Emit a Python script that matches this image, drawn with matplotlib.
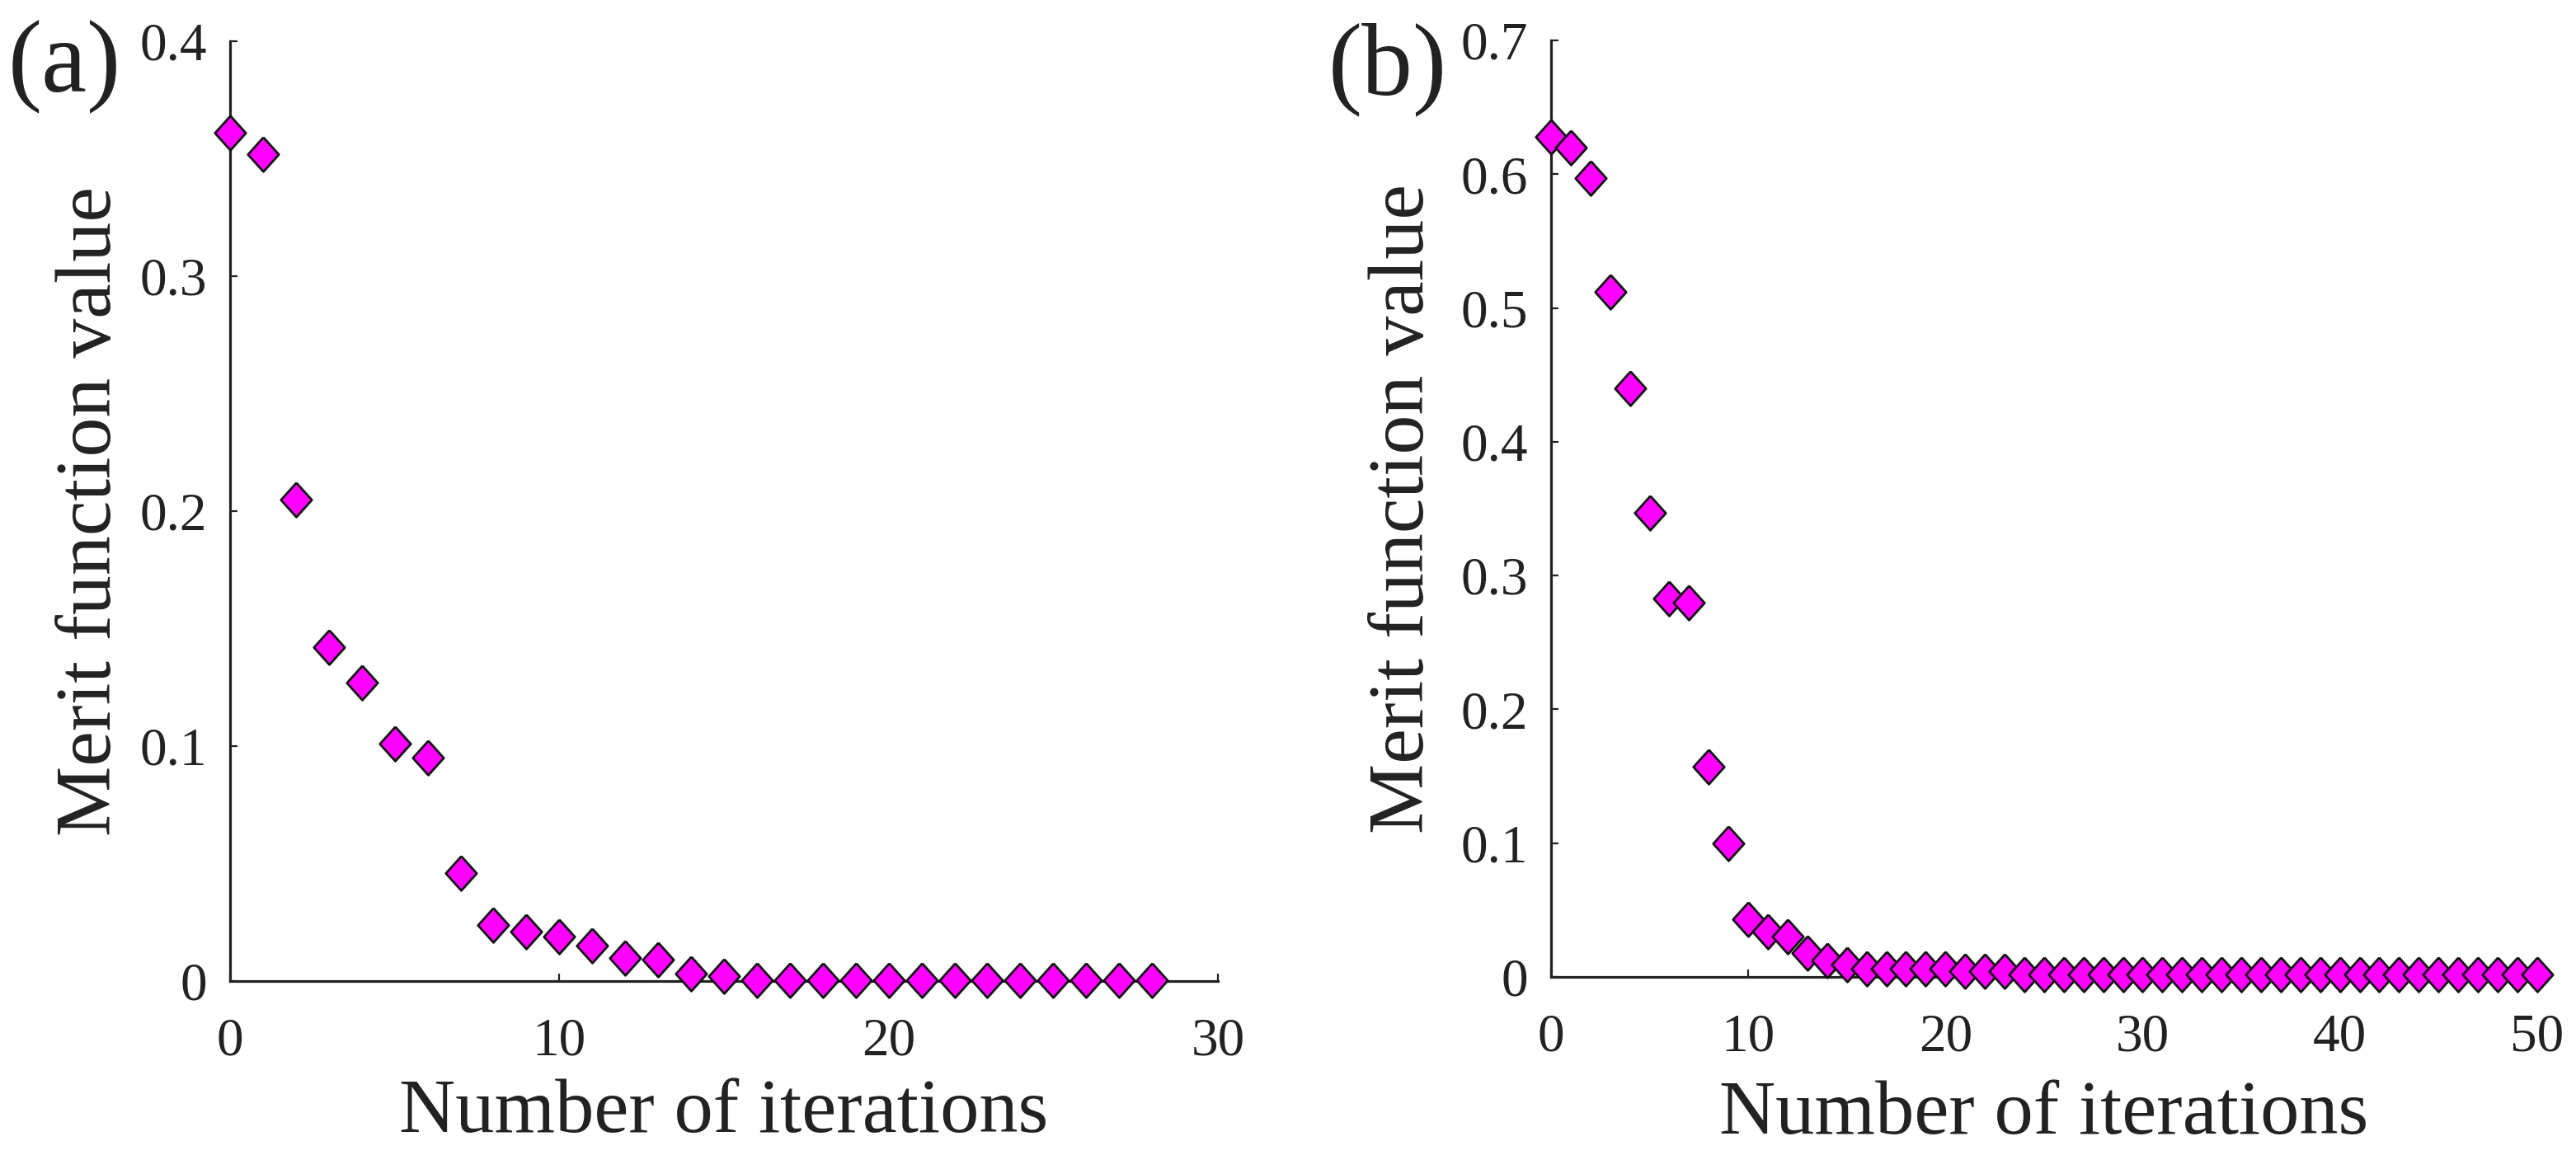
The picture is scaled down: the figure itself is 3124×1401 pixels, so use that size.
import numpy as np
import matplotlib
matplotlib.use('Agg')
import matplotlib.pyplot as plt

plt.rcParams['font.family'] = ['Liberation Serif', 'DejaVu Serif']

# panel (a) data
iters_a = list(range(29))
merit_a = [0.361, 0.352, 0.205, 0.142, 0.127, 0.101, 0.095, 0.046, 0.024, 0.021,
           0.019, 0.015, 0.010, 0.009, 0.003, 0.002, 0.0005, 0.0005, 0.0005, 0.0005,
           0.0005, 0.0005, 0.0005, 0.0005, 0.0005, 0.0005, 0.0005, 0.0005, 0.0005]

# panel (b) data
iters_b = list(range(51))
merit_b = [0.628, 0.620, 0.597, 0.512, 0.440, 0.347, 0.283, 0.280, 0.157, 0.100,
           0.043, 0.034, 0.030, 0.018, 0.012, 0.009, 0.006, 0.006, 0.006, 0.006,
           0.006, 0.004, 0.004, 0.004] + [0.002] * 27

xticks_a = [0, 10, 20, 30]
yticks_a = [0, 0.1, 0.2, 0.3, 0.4]
xticks_b = [0, 10, 20, 30, 40, 50]
yticks_b = [0, 0.1, 0.2, 0.3, 0.4, 0.5, 0.6, 0.7]

diamond = [(0, 1), (0.9, 0), (0, -1), (-0.9, 0), (0, 1)]


def setup_axis(ax, xt, yt, xlim, ylim, ylab_x, xlab_y):
    ax.set_xlim(*xlim)
    ax.set_ylim(*ylim)
    ax.set_xticks(xt)
    ax.set_yticks(yt)
    ax.set_xticklabels([str(v) for v in xt])
    ax.set_yticklabels(['0' if v == 0 else '%g' % v for v in yt])
    for s in ['top', 'right']:
        ax.spines[s].set_visible(False)
    for s in ['left', 'bottom']:
        ax.spines[s].set_linewidth(2.3)
        ax.spines[s].set_color('#222222')
    ax.tick_params(axis='both', direction='in', length=6.5, width=1.6,
                   colors='#222222', labelsize=47, labelcolor='#222222')
    ax.tick_params(axis='x', pad=32)
    ax.tick_params(axis='y', pad=20)
    ax.set_xlabel('Number of iterations', fontsize=68, color='#222222')
    ax.set_ylabel('Merit function value', fontsize=69, color='#222222')
    ax.xaxis.set_label_coords(0.5, xlab_y)
    ax.yaxis.set_label_coords(ylab_x, 0.5)


fig = plt.figure(figsize=(31.24, 14.01), dpi=100)

ax1 = fig.add_axes([0.0893, 0.1506, 0.3835, 0.8137])
ax1.plot(iters_a, merit_a, linestyle='none', marker=diamond, markersize=30,
         markerfacecolor='#ff00ff', markeredgecolor='#111111', markeredgewidth=2.0,
         clip_on=False, zorder=5)
setup_axis(ax1, xticks_a, yticks_a, (0, 30), (0, 0.4), -0.104, -0.1035)

ax2 = fig.add_axes([0.6021, 0.1542, 0.3828, 0.8108])
ax2.plot(iters_b, merit_b, linestyle='none', marker=diamond, markersize=30,
         markerfacecolor='#ff00ff', markeredgecolor='#111111', markeredgewidth=2.0,
         clip_on=False, zorder=5)
setup_axis(ax2, xticks_b, yticks_b, (0, 50), (0, 0.7), -0.113, -0.110)

fig.text(10 / 3124, 1 - 24 / 1401, '(a)', fontsize=89, ha='left', va='top', color='#222222')
fig.text(1611 / 3124, 1 - 27 / 1401, '(b)', fontsize=89, ha='left', va='top', color='#222222')

fig.savefig('out.png', dpi=100, facecolor='white')
